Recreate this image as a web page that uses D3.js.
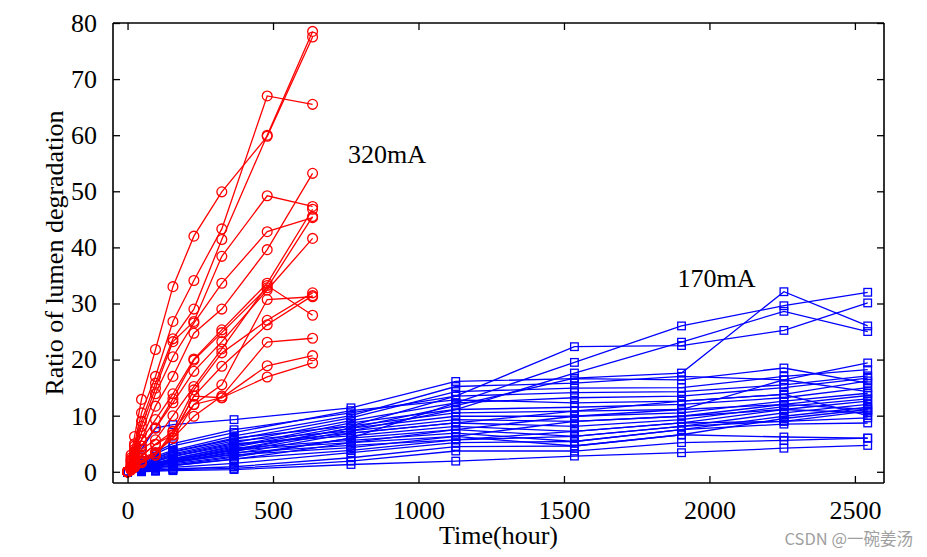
<!DOCTYPE html>
<html>
<head>
<meta charset="utf-8">
<script src="https://cdn.jsdelivr.net/npm/d3@7"></script>
<style>
  html, body { margin: 0; padding: 0; background: #fff; }
  svg { display: block; }
</style>
</head>
<body>
<svg id="chart" width="927" height="557"></svg>
<script>
// ---------- data ----------
const redTimes = [0, 12, 24, 48, 96, 156, 228, 324, 480, 636];
const redSeries = [
  [0, 3.0, 6.3, 12.9, 21.8, 33.0, 42.0, 49.9, 59.8, 77.5],
  [0, 2.5, 5.0, 10.5, 17.0, 26.8, 34.1, 43.3, 67.0, 65.5],
  [0, 2.2, 4.6, 9.0, 15.8, 23.7, 29.0, 41.4, 60.0, 78.5],
  [0, 2.0, 4.0, 8.1, 14.9, 23.2, 26.8, 38.4, 49.2, 47.3],
  [0, 1.8, 3.5, 6.9, 13.9, 20.5, 26.5, 33.6, 42.8, 45.3],
  [0, 1.5, 3.0, 5.7, 11.7, 17.0, 24.7, 29.0, 39.6, 53.2],
  [0, 1.2, 2.8, 5.7, 9.3, 13.9, 20.1, 25.3, 33.6, 46.8],
  [0, 1.0, 2.5, 4.6, 7.8, 13.0, 19.9, 24.8, 32.8, 45.5],
  [0, 0.9, 2.2, 4.6, 7.8, 12.3, 17.9, 23.2, 32.4, 41.6],
  [0, 0.8, 2.0, 4.0, 5.7, 10.0, 15.2, 21.9, 33.2, 27.9],
  [0, 0.7, 1.6, 2.8, 4.9, 7.2, 14.6, 21.2, 27.0, 31.9],
  [0, 0.6, 1.4, 2.8, 4.9, 6.6, 13.5, 18.8, 26.2, 31.4],
  [0, 0.5, 1.2, 2.5, 3.4, 6.0, 12.0, 15.5, 30.7, 31.2],
  [0, 0.5, 1.0, 2.0, 3.4, 6.0, 9.9, 13.5, 23.1, 23.8],
  [0, 0.4, 0.9, 1.8, 3.0, 6.6, 13.5, 13.2, 18.9, 20.7],
  [0, 0.3, 0.8, 1.6, 3.0, 7.2, 12.0, 13.2, 16.9, 19.4]
];

const blueTimes = [0, 48, 96, 156, 366, 768, 1128, 1536, 1904, 2256, 2544];
const blueSeries = [
  [0, 0.4, 0.8, 1.2, 2.6, 6.0, 12.3, 19.5, 26.0, 29.6, 32.0],
  [0, 0.9, 1.6, 2.4, 4.4, 8.2, 13.5, 22.3, 22.5, 25.2, 30.1],
  [0, 0.6, 1.1, 1.7, 3.6, 7.3, 11.1, 17.6, 23.1, 28.6, 25.0],
  [0, 0.7, 1.3, 2.0, 4.0, 7.8, 11.8, 16.7, 17.6, 32.1, 26.0],
  [0, 4.0, 7.8, 8.4, 9.3, 11.4, 16.1, 16.6, 16.4, 18.5, 15.8],
  [0, 1.5, 2.8, 3.8, 6.4, 10.0, 15.2, 15.8, 17.0, 16.4, 19.4],
  [0, 1.2, 2.4, 3.5, 5.8, 9.6, 14.3, 14.9, 15.0, 17.0, 18.2],
  [0, 2.0, 3.5, 5.0, 7.5, 10.5, 13.5, 14.1, 14.3, 15.5, 17.1],
  [0, 1.0, 2.0, 3.0, 5.2, 9.1, 12.3, 13.2, 13.5, 15.0, 16.7],
  [0, 1.8, 3.2, 4.6, 7.0, 10.9, 12.8, 12.3, 12.6, 13.8, 16.2],
  [0, 0.8, 1.5, 2.3, 4.6, 8.7, 11.1, 11.5, 12.0, 13.2, 15.0],
  [0, 1.3, 2.5, 3.6, 6.0, 8.2, 10.5, 10.8, 11.1, 16.4, 14.3],
  [0, 0.6, 1.2, 1.9, 3.8, 7.8, 9.9, 9.9, 10.5, 12.6, 14.0],
  [0, 1.1, 2.2, 3.2, 5.5, 7.3, 9.3, 9.0, 9.9, 12.0, 13.6],
  [0, 0.5, 1.0, 1.6, 3.2, 6.9, 8.7, 8.1, 9.3, 11.6, 13.0],
  [0, 0.9, 1.8, 2.8, 5.0, 6.4, 8.1, 7.2, 8.7, 11.1, 12.6],
  [0, 0.4, 0.9, 1.4, 2.8, 6.0, 7.5, 6.3, 8.1, 10.5, 12.0],
  [0, 0.7, 1.4, 2.1, 4.2, 5.6, 6.9, 5.4, 7.5, 9.9, 11.5],
  [0, 0.3, 0.7, 1.1, 2.2, 5.2, 6.3, 4.6, 6.6, 9.5, 11.1],
  [0, 0.5, 1.1, 1.7, 3.4, 4.7, 5.7, 7.2, 8.7, 9.0, 10.8],
  [0, 0.3, 0.7, 1.1, 2.3, 3.8, 5.7, 6.3, 8.1, 9.0, 9.6],
  [0, 0.2, 0.5, 0.8, 1.5, 3.4, 5.2, 5.4, 7.5, 8.5, 8.7],
  [0, 0.1, 0.3, 0.5, 0.9, 2.5, 4.5, 4.6, 6.6, 6.2, 6.0],
  [0, 0.1, 0.2, 0.4, 0.6, 1.9, 3.7, 3.7, 5.2, 5.6, 6.0],
  [0, 0.0, 0.1, 0.2, 0.4, 1.3, 1.9, 2.8, 3.4, 4.2, 4.7],
  [0, 0.6, 1.2, 1.8, 3.0, 4.3, 6.3, 9.0, 9.9, 11.1, 10.5],
  [0, 0.8, 1.5, 2.2, 3.9, 5.2, 7.5, 9.9, 11.1, 12.0, 11.1],
  [0, 1.0, 1.9, 2.7, 4.8, 6.9, 8.7, 10.8, 12.6, 13.8, 10.0]
];

const xTicks = [0, 500, 1000, 1500, 2000, 2500];
const yTicks = [0, 10, 20, 30, 40, 50, 60, 70, 80];
const labels = { x: "Time(hour)", y: "Ratio of lumen degradation", red: "320mA", blue: "170mA" };
const redLabelPos = [758, 55];
const blueLabelPos = [1890, 33];

// ---------- layout ----------
const svg = d3.select("#chart");
const mLeft = 113, mRight = 884, mTop = 23, mBottom = 483;
const x = d3.scaleLinear().domain([-50, 2600]).range([mLeft, mRight]);
const y = d3.scaleLinear().domain([-2, 80]).range([mBottom, mTop]);
const font = "'Liberation Serif', 'Times New Roman', serif";

const line = d3.line().x(d => x(d[0])).y(d => y(d[1]));

// blue series
const gBlue = svg.append("g");
blueSeries.forEach(s => {
  const pts = s.map((v, i) => [blueTimes[i], v]);
  gBlue.append("path").attr("d", line(pts)).attr("fill", "none")
    .attr("stroke", "#0000ff").attr("stroke-width", 1.3);
  gBlue.selectAll(null).data(pts).enter().append("rect")
    .attr("x", d => x(d[0]) - 3.8).attr("y", d => y(d[1]) - 3.8)
    .attr("width", 7.6).attr("height", 7.6)
    .attr("fill", "none").attr("stroke", "#0000ff").attr("stroke-width", 1.3);
});

// red series
const gRed = svg.append("g");
redSeries.forEach(s => {
  const pts = s.map((v, i) => [redTimes[i], v]);
  gRed.append("path").attr("d", line(pts)).attr("fill", "none")
    .attr("stroke", "#ff0000").attr("stroke-width", 1.3);
  gRed.selectAll(null).data(pts).enter().append("circle")
    .attr("cx", d => x(d[0])).attr("cy", d => y(d[1])).attr("r", 4.9)
    .attr("fill", "none").attr("stroke", "#ff0000").attr("stroke-width", 1.3);
});

// axes (MATLAB-style inward ticks, full box)
const tl = 7;
const axB = svg.append("g").attr("transform", `translate(0,${mBottom})`)
  .call(d3.axisBottom(x).tickValues(xTicks).tickSize(-tl).tickPadding(18).tickFormat(d3.format("d")));
const axT = svg.append("g").attr("transform", `translate(0,${mTop})`)
  .call(d3.axisTop(x).tickValues(xTicks).tickSize(-tl).tickFormat(""));
const axL = svg.append("g").attr("transform", `translate(${mLeft},0)`)
  .call(d3.axisLeft(y).tickValues(yTicks).tickSize(-tl).tickPadding(16));
const axR = svg.append("g").attr("transform", `translate(${mRight},0)`)
  .call(d3.axisRight(y).tickValues(yTicks).tickSize(-tl).tickFormat(""));
[axB, axT, axL, axR].forEach(a => {
  a.select(".domain").attr("stroke", "#000").attr("stroke-width", 1.6);
  a.selectAll(".tick line").attr("stroke", "#000").attr("stroke-width", 1.3);
  a.selectAll("text").attr("font-family", font).attr("font-size", 26).attr("fill", "#000");
});
axB.select(".domain").attr("d", `M${mLeft},0H${mRight}`);
axT.select(".domain").attr("d", `M${mLeft},0H${mRight}`);
axL.select(".domain").attr("d", `M0,${mTop}V${mBottom}`);
axR.select(".domain").attr("d", `M0,${mTop}V${mBottom}`);

// axis labels
svg.append("text").attr("x", (mLeft + mRight) / 2).attr("y", 544)
  .attr("text-anchor", "middle").attr("font-family", font).attr("font-size", 26)
  .text(labels.x);
svg.append("text")
  .attr("transform", `translate(63,${(mTop + mBottom) / 2}) rotate(-90)`)
  .attr("text-anchor", "middle").attr("font-family", font).attr("font-size", 26)
  .text(labels.y);

// annotations
svg.append("text").attr("x", x(redLabelPos[0])).attr("y", y(redLabelPos[1]))
  .attr("font-family", font).attr("font-size", 26).text(labels.red);
svg.append("text").attr("x", x(blueLabelPos[0])).attr("y", y(blueLabelPos[1]))
  .attr("font-family", font).attr("font-size", 26).text(labels.blue);

// watermark
svg.append("text").attr("x", 913).attr("y", 545).attr("text-anchor", "end")
  .attr("font-family", "'Noto Sans CJK SC', 'Noto Sans', sans-serif").attr("font-size", 16.5)
  .attr("fill", "#a0a0a0").text("CSDN @一碗姜汤");
</script>
</body>
</html>
